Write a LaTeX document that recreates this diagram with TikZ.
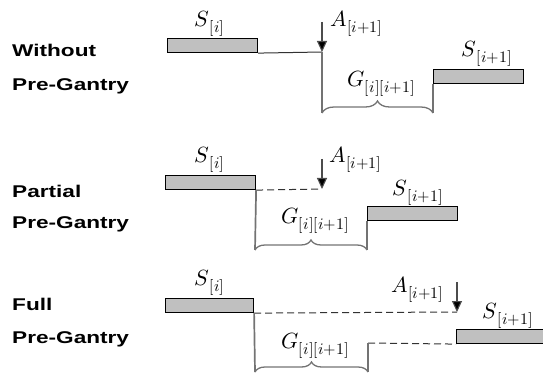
\documentclass[tikz,border=0pt]{standalone}
\usepackage{fontspec}
\usepackage{unicode-math}
\newfontfamily\rowfont[FakeStretch=1.33]{Liberation Sans Bold}
\usetikzlibrary{arrows.meta,decorations.pathreplacing}
\definecolor{barfill}{RGB}{192,192,192}
\definecolor{vgray}{RGB}{115,115,115}
\definecolor{cgray}{RGB}{50,50,50}
\newcommand\subl[2]{$#1$\kern0.5pt\raisebox{-6pt}{\fontsize{16}{16}\selectfont$#2$}}
\begin{document}
\begin{tikzpicture}[x=1pt,y=-1pt,
  rowlab/.style={anchor=base west,inner sep=0,font=\rowfont\fontsize{17}{20}\selectfont},
  mlab/.style={anchor=base west,inner sep=0,font=\fontsize{22}{24}\selectfont},
  bar/.style={draw=black,line width=1.1pt,fill=barfill,minimum height=14pt,anchor=north west,inner sep=0},
  conn/.style={draw=cgray,line width=1pt},
  dconn/.style={conn,dash pattern=on 7pt off 4pt},
  vline/.style={draw=vgray,line width=1.7pt},
  arr/.style={draw=black!70,line width=1.1pt,-{Triangle[length=11pt,width=10pt,fill=black]}},
  brc/.style={draw=vgray,line width=1.3pt,decorate,decoration={brace,amplitude=#1}}
]
\useasboundingbox (0,0) rectangle (543,374);

% ---- row 1
\node[rowlab] (r1a) at (12,57) {Without};
\node[rowlab] (r1b) at (12,91) {Pre-Gantry};
\node[bar,minimum width=90pt] (s1) at (167,38) {};
\node[bar,minimum width=90pt] (s2) at (433,69) {};
\coordinate (a1top) at (322,22);
\coordinate (a1tip) at (322,52);
\coordinate (g1l) at (322,113);
\coordinate (g1r) at (433,113);
\draw[conn] (s1.south east) -- (a1tip);
\draw[vline] (a1tip) -- (g1l);
\draw[vline] (s2.south west) -- (g1r);
\draw[brc=12pt] (g1l) -- (g1r);
\draw[arr] (a1top) -- (a1tip);
\node[mlab] (ls1) at (194,27) {\subl{S}{[i]}};
\node[mlab] (la1) at (330,27) {\subl{A}{[i{+}1]}};
\node[mlab] (lg1) at (347,87) {\subl{G}{[i][i{+}1]}};
\node[mlab] (ls2) at (461,57) {\subl{S}{[i{+}1]}};

% ---- row 2
\node[rowlab] (r2a) at (12,197) {Partial};
\node[rowlab] (r2b) at (12,228) {Pre-Gantry};
\node[bar,minimum width=90pt] (s3) at (165,175) {};
\node[bar,minimum width=90pt] (s4) at (367,206) {};
\coordinate (a2top) at (322,159);
\coordinate (a2tip) at (322,189);
\coordinate (g2l) at (255,250);
\coordinate (g2r) at (367,250);
\draw[dconn] (s3.south east) -- (a2tip);
\draw[vline] (s3.south east) -- (g2l);
\draw[vline] (s4.south west) -- (g2r);
\draw[brc=10pt] (g2l) -- (g2r);
\draw[arr] (a2top) -- (a2tip);
\node[mlab] (ls3) at (194,163) {\subl{S}{[i]}};
\node[mlab] (la2) at (329,163) {\subl{A}{[i{+}1]}};
\node[mlab] (lg2) at (281,223) {\subl{G}{[i][i{+}1]}};
\node[mlab] (ls4) at (392,195) {\subl{S}{[i{+}1]}};

% ---- row 3
\node[rowlab] (r3a) at (12,310) {Full};
\node[rowlab] (r3b) at (12,343) {Pre-Gantry};
\node[bar,minimum width=88pt] (s5) at (165,298) {};
\node[bar,minimum width=89pt] (s6) at (456,329) {};
\coordinate (a3top) at (457,282);
\coordinate (a3tip) at (457,312);
\coordinate (c3) at (368,343);
\coordinate (g3l) at (255,372);
\coordinate (g3r) at (368,372);
\draw[dconn] (s5.south east) -- (a3tip);
\draw[dconn] (c3) -- (s6.south west);
\draw[vline] (s5.south east) -- (g3l);
\draw[vline] (c3) -- (g3r);
\draw[brc=10pt] (g3l) -- (g3r);
\draw[arr] (a3top) -- (a3tip);
\node[mlab] (ls5) at (194,285) {\subl{S}{[i]}};
\node[mlab] (la3) at (391,292) {\subl{A}{[i{+}1]}};
\node[mlab] (lg3) at (281,348) {\subl{G}{[i][i{+}1]}};
\node[mlab] (ls6) at (482,318) {\subl{S}{[i{+}1]}};
\end{tikzpicture}
\end{document}
